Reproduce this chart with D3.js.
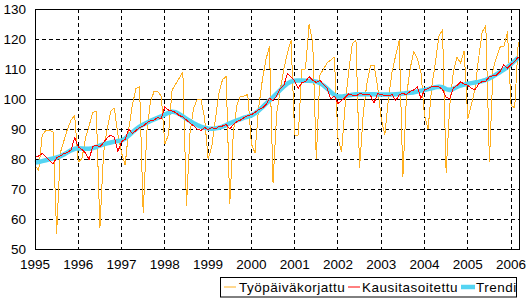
<!DOCTYPE html>
<html>
<head>
<meta charset="utf-8">
<script src="https://cdn.jsdelivr.net/npm/d3@7"></script>
<style>
  body { margin: 0; background: #fff; }
  svg text { font-family: "Liberation Sans", Arial, sans-serif; fill: #000; }
</style>
</head>
<body>
<svg id="chart" width="528" height="298"></svg>
<script>
// kuukausittain tammikuu 1995 - maaliskuu 2006
const vuodet = ["1995","1996","1997","1998","1999","2000","2001","2002","2003","2004","2005","2006"]
const yTicks = [50, 60, 70, 80, 90, 100, 110, 120, 130]
const sarjat = ["Työpäiväkorjattu", "Kausitasoitettu", "Trendi"]

const tyopaiva = [
  78, 76, 88, 89.5, 89.5, 89, 55, 82, 86, 90, 93, 94.5,
  79, 80, 87, 91, 95.5, 96, 57, 82, 90, 96, 97, 88,
  82, 78, 90, 98, 103.5, 104, 62, 89, 99, 102.5, 102.5, 101,
  85, 88, 103, 105, 107, 109, 64.5, 89, 97, 100, 100, 94,
  80, 84, 93, 102, 106.5, 107.5, 65, 89, 98, 101, 101, 101.5,
  85, 82, 97, 106, 113, 117.5, 72, 95, 103, 110, 115.5, 119.5,
  88, 88, 110, 110, 125, 119, 80, 108, 110, 112, 113, 114,
  87, 82.5, 98, 109.5, 118.5, 119.5, 77, 95, 105, 111, 111.3, 104,
  93.5, 88, 100, 109, 114.5, 119.5, 74, 101, 110, 115.8, 113.5, 109,
  94.5, 90, 104, 112, 121, 123, 75.5, 98, 109, 114, 112, 116,
  93.5, 98, 103.5, 113.5, 122.4, 124.4, 79, 110, 114, 117.4, 117.4, 122.4,
  98, 97, 119
]

const kausi = [
  80.5, 81.0, 81.8, 80.8, 79.5, 78.3, 80.5, 81.0, 81.8, 82.2, 83.0, 87.2,
  84.0, 83.2, 82.0, 79.8, 84.2, 84.6, 84.0, 85.5, 87.0, 88.0, 87.2, 82.5,
  85.8, 86.5, 90.0, 88.5, 89.5, 90.5, 91.0, 92.0, 92.8, 93.0, 93.8, 93.5,
  97.4, 96.3, 96.0, 95.5, 94.5, 94.0, 93.0, 92.0, 91.0, 90.0, 89.5, 90.5,
  89.8, 90.5, 90.0, 90.8, 91.0, 91.5, 90.0, 91.5, 92.5, 93.0, 93.8, 94.5,
  94.8, 95.5, 96.5, 97.0, 98.0, 100.2, 99.5, 101.0, 103.5, 104.5, 108.6, 107.4,
  106.0, 103.6, 105.5, 105.8, 107.4, 106.2, 105.5, 106.2, 104.8, 103.6, 100.0, 101.0,
  98.5, 99.5, 100.5, 101.7, 101.3, 101.0, 101.8, 101.6, 101.5, 101.3, 98.6, 101.8,
  101.5, 101.2, 101.0, 101.5, 99.4, 101.5, 101.8, 101.5, 102.5, 103.0, 104.1, 100.2,
  103.0, 103.5, 104.2, 104.2, 104.0, 103.2, 100.5, 100.2, 103.6, 104.5, 105.7, 105.0,
  104.5, 103.6, 103.0, 105.0, 105.8, 106.0, 107.4, 107.8, 108.0, 109.2, 111.4, 110.3,
  111.5, 112.5, 114.0
]

const trendi = [
  78.8, 79.0, 79.3, 79.6, 79.9, 80.2, 80.5, 80.9, 81.5, 82.2, 82.9, 83.4,
  83.6, 83.5, 83.4, 83.4, 83.6, 84.0, 84.5, 84.9, 85.2, 85.5, 85.8, 86.0,
  86.2, 86.8, 87.8, 88.9, 89.9, 90.8, 91.5, 92.1, 92.7, 93.2, 93.7, 94.2,
  94.8, 95.4, 95.8, 95.6, 95.0, 94.2, 93.4, 92.6, 91.9, 91.3, 90.8, 90.4,
  90.2, 90.1, 90.2, 90.4, 90.8, 91.3, 91.9, 92.4, 92.9, 93.3, 93.8, 94.1,
  94.5, 95.2, 96.1, 97.2, 98.4, 99.5, 100.6, 101.8, 103.0, 104.2, 105.2, 105.8,
  106.1, 106.2, 106.2, 106.1, 106.1, 106.0, 105.8, 105.3, 104.5, 103.5, 102.3, 101.3,
  100.8, 100.8, 101.0, 101.2, 101.4, 101.6, 101.6, 101.6, 101.6, 101.6, 101.6, 101.5,
  101.5, 101.5, 101.5, 101.5, 101.6, 101.7, 101.8, 102.0, 102.1, 102.2, 102.5, 102.8,
  103.0, 103.3, 103.6, 103.9, 104.1, 103.9, 103.3, 103.0, 103.4, 104.0, 104.5, 104.8,
  105.1, 105.3, 105.5, 105.7, 106.0, 106.4, 106.9, 107.5, 108.3, 109.0, 109.8, 110.6,
  111.6, 112.7, 113.8
]

const varit = ["#ffb020", "#ff0000", "#55d4f2"]
const paksuus = [1, 1, 4.5]

const vasen = 35, oikea = 519, yla = 9, ala = 249

const svg = d3.select('#chart')

const xScale = d3.scaleLinear()
  .domain([0, 134.2])
  .range([vasen, oikea])

const yScale = d3.scaleLinear()
  .domain([50, 130])
  .range([ala, yla])

// ruudukko
svg.append('g')
  .selectAll('line')
  .data(yTicks.filter(d => d != 50 && d != 100 && d != 130))
  .join('line')
  .attr('x1', vasen).attr('x2', oikea)
  .attr('y1', d => yScale(d)).attr('y2', d => yScale(d))
  .attr('stroke', '#000')
  .attr('stroke-dasharray', '4,3')
  .attr('shape-rendering', 'crispEdges')

svg.append('g')
  .selectAll('line')
  .data(vuodet.slice(1))
  .join('line')
  .attr('x1', (d, i) => xScale((i + 1) * 12)).attr('x2', (d, i) => xScale((i + 1) * 12))
  .attr('y1', yla).attr('y2', ala)
  .attr('stroke', '#000')
  .attr('stroke-dasharray', '4,3')
  .attr('shape-rendering', 'crispEdges')

svg.append('line')
  .attr('x1', vasen).attr('x2', oikea)
  .attr('y1', yScale(100)).attr('y2', yScale(100))
  .attr('stroke', '#000')
  .attr('stroke-width', 1)
  .attr('shape-rendering', 'crispEdges')

const viiva = data => d3.line()
  .x((d, i) => xScale(i))
  .y(d => yScale(d))(data)

const aineisto = [tyopaiva, trendi, kausi]
const jarjestys = [0, 2, 1]

svg.append('g')
  .selectAll('path')
  .data(aineisto)
  .join('path')
  .attr('d', d => viiva(d))
  .attr('fill', 'none')
  .attr('stroke', (d, i) => varit[jarjestys[i]])
  .attr('stroke-width', (d, i) => paksuus[jarjestys[i]])
  .attr('stroke-linejoin', 'round')
  .attr('shape-rendering', (d, i) => jarjestys[i] == 2 ? 'auto' : 'crispEdges')

// kehys
svg.append('rect')
  .attr('x', vasen).attr('y', yla)
  .attr('width', oikea - vasen).attr('height', ala - yla)
  .attr('fill', 'none')
  .attr('stroke', '#000')
  .attr('stroke-width', 1)
  .attr('shape-rendering', 'crispEdges')

// akselit
svg.append('g')
  .selectAll('text')
  .data(yTicks)
  .join('text')
  .attr('x', 26)
  .attr('y', d => yScale(d) + 5)
  .attr('text-anchor', 'end')
  .style('font-size', '13.5px')
  .text(d => d)

svg.append('g')
  .selectAll('text')
  .data(vuodet)
  .join('text')
  .attr('x', (d, i) => xScale(i * 12))
  .attr('y', 269)
  .attr('text-anchor', 'middle')
  .style('font-size', '13.5px')
  .text(d => d)

// selite
const selite = svg.append('g')
selite.append('rect')
  .attr('x', 220.5).attr('y', 277.5)
  .attr('width', 296).attr('height', 19.5)
  .attr('fill', '#fff')
  .attr('stroke', '#000')

const paikat = [[224, 239], [348, 362], [461, 476]]
const naytteet = [12, 12, 14]

selite.selectAll('line')
  .data(sarjat)
  .join('line')
  .attr('x1', (d, i) => paikat[i][0])
  .attr('x2', (d, i) => paikat[i][0] + naytteet[i])
  .attr('y1', 287).attr('y2', 287)
  .attr('stroke', (d, i) => varit[i])
  .attr('stroke-width', (d, i) => paksuus[i])

selite.selectAll('text')
  .data(sarjat)
  .join('text')
  .attr('x', (d, i) => paikat[i][1])
  .attr('y', 292)
  .style('font-size', '13.5px')
  .style('letter-spacing', '0.5px')
  .text(d => d)
</script>
</body>
</html>
